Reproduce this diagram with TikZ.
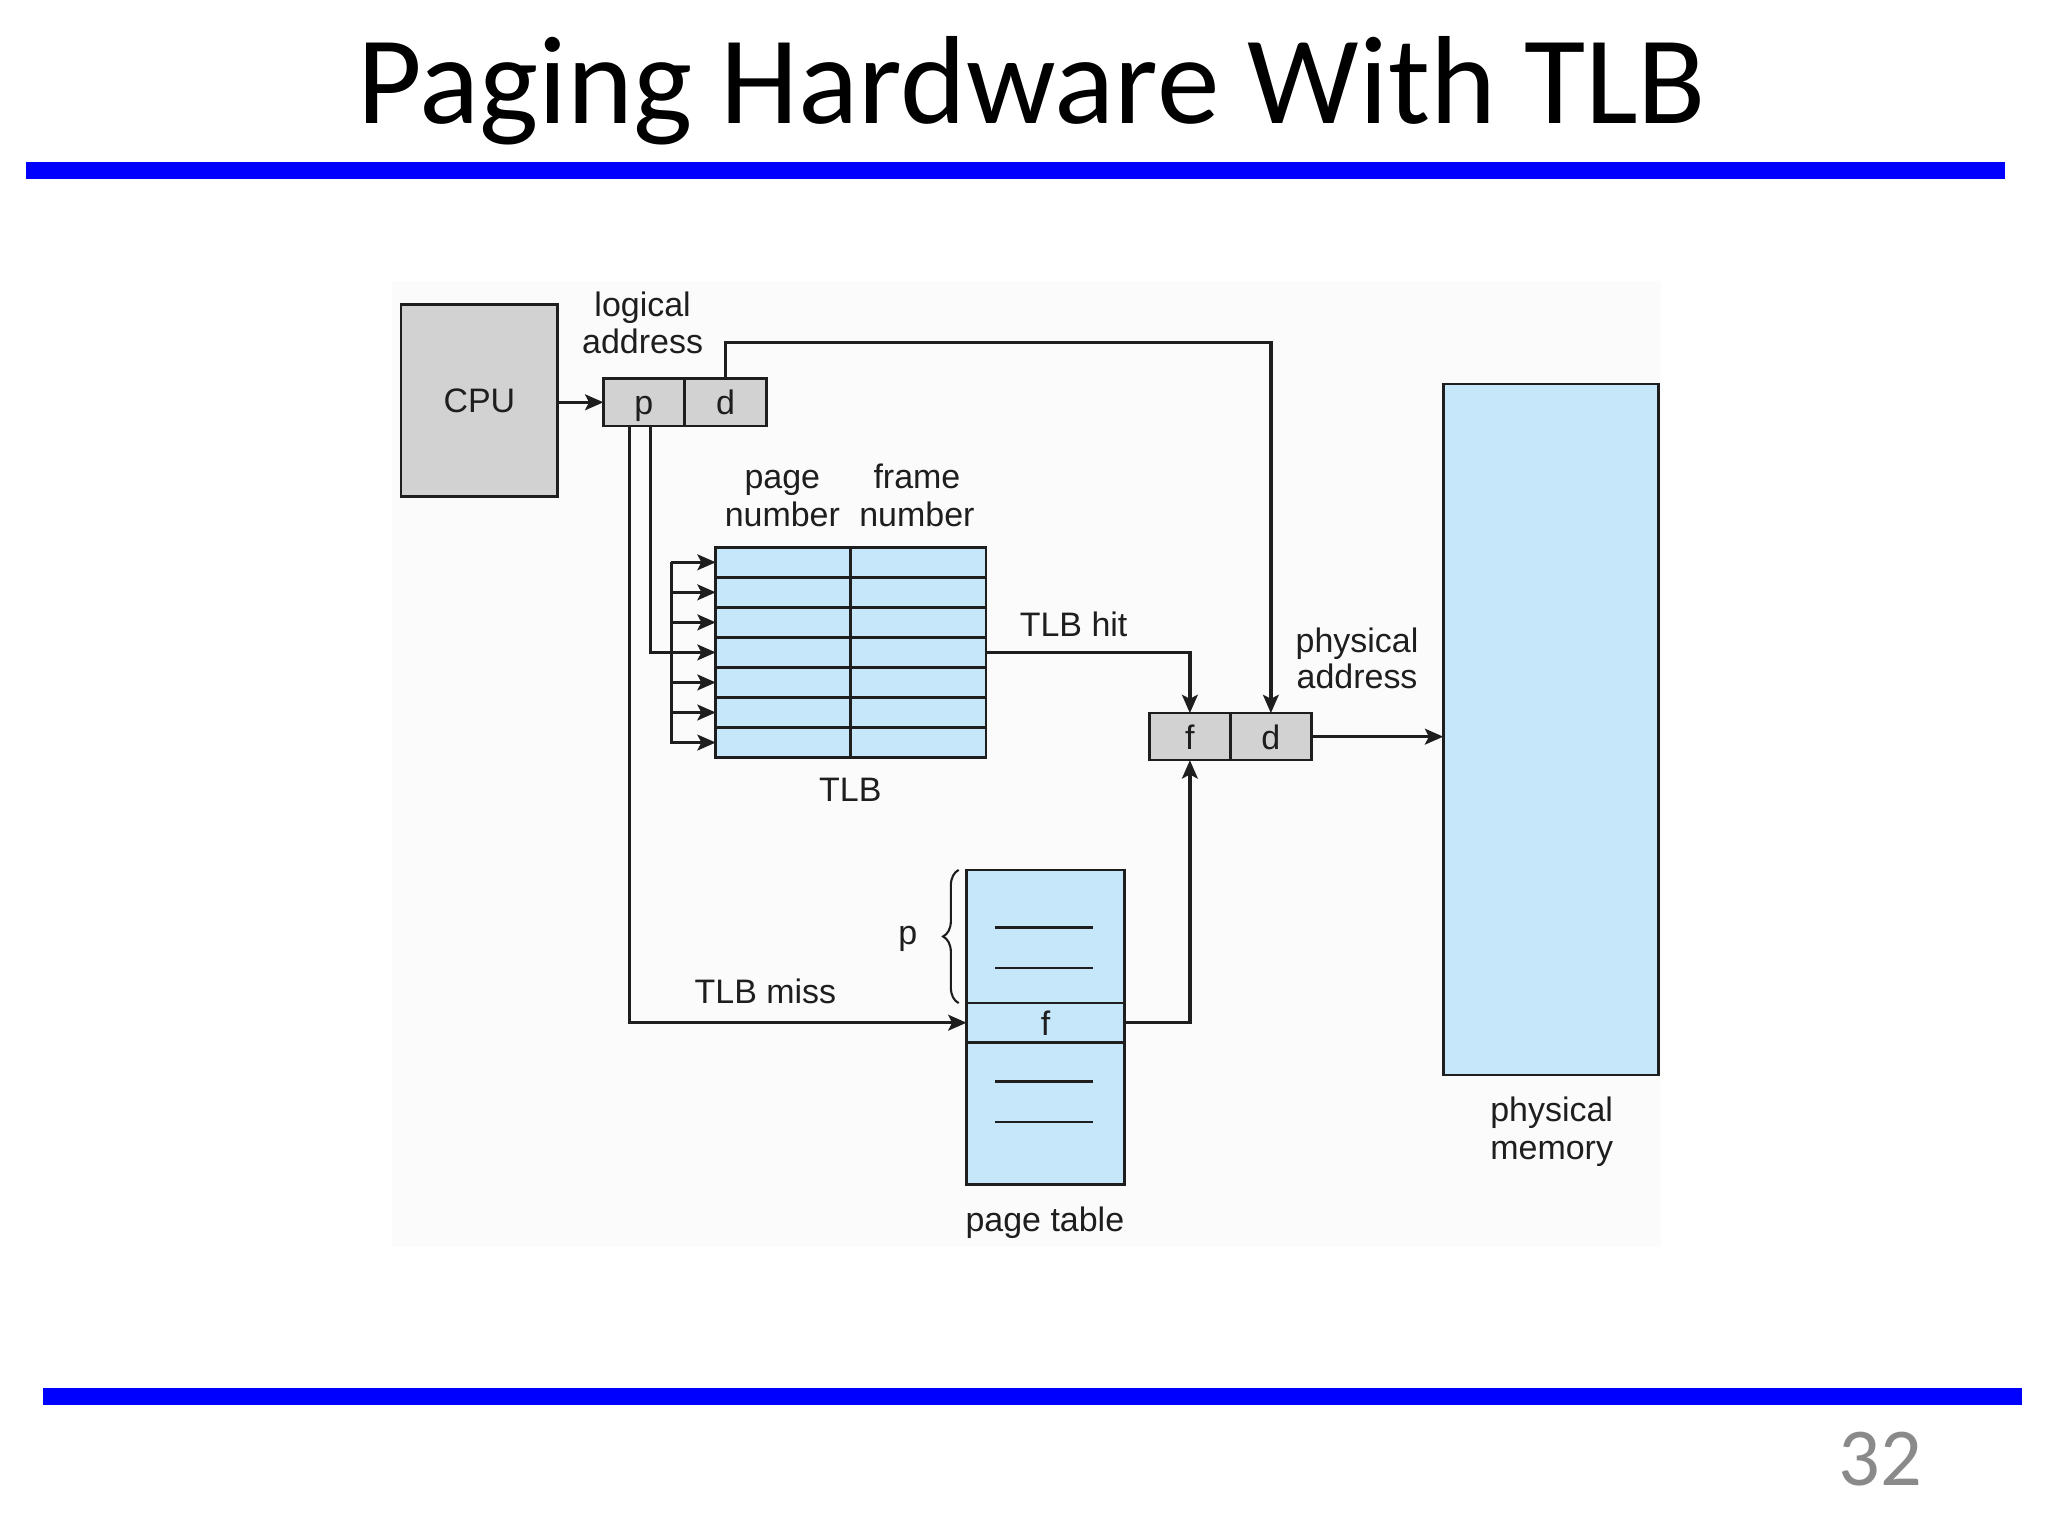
\documentclass[tikz,border=0pt]{standalone}
\usepackage{fontspec}
\setmainfont{Liberation Sans}
\newfontfamily\titlefont{Carlito}
\usetikzlibrary{arrows.meta,decorations.pathreplacing,calc}
\definecolor{memblue}{HTML}{C6E7F9}
\definecolor{boxgray}{HTML}{D2D2D2}
\definecolor{ink}{HTML}{1E1E1E}
\definecolor{slideblue}{HTML}{0000FF}
\definecolor{numgray}{HTML}{8A8A8A}
\definecolor{figbg}{HTML}{FBFBFB}
\begin{document}
\begin{tikzpicture}[x=1pt,y=-1pt,
  cell/.style={draw=ink, line width=2pt, inner sep=0pt, outer sep=0pt, anchor=north west, font=\fontsize{26}{29}\selectfont, text=ink, text height=19pt, text depth=0pt},
  graybox/.style={cell, fill=boxgray},
  bluebox/.style={cell, fill=memblue},
  conn/.style={draw=ink, line width=2.6pt},
  arr/.style={conn, -{Stealth[length=14pt,width=12pt,inset=3pt]}},
  lbl/.style={anchor=base, font=\fontsize{26}{29}\selectfont, text=ink, inner sep=0pt},
  thinline/.style={draw=ink, line width=2pt},
]
\useasboundingbox (0,0) rectangle (1568,1176);
\fill[white] (0,0) rectangle (1568,1176);
\fill[figbg] (300,215) rectangle (1272,955);

% slide frame
\node[anchor=base, font=\titlefont\fontsize{96}{100}\selectfont, inner sep=0pt] (title) at (790,94.4) {Paging Hardware With TLB};
\fill[slideblue] (20,124) rectangle (1535,137);
\fill[slideblue] (33,1063) rectangle (1548,1076);
\node[anchor=base east, font=\titlefont\fontsize{63}{66}\selectfont, text=numgray, inner sep=0pt] (pgnum) at (1472,1137) {32};

% CPU and logical address
\node[graybox, minimum width=120pt, minimum height=147pt] (cpu) at (307,233) {CPU};
\node[graybox, minimum width=62pt, minimum height=36pt] (p) at (462,290) {p};
\node[graybox, minimum width=63pt, minimum height=36pt] (d) at (524,290) {d};

% TLB
\foreach \i in {1,...,7} {
  \node[bluebox, minimum width=103pt, minimum height=23pt] (tp\i) at (548,{419+(\i-1)*23}) {};
  \node[bluebox, minimum width=104pt, minimum height=23pt] (tf\i) at (651,{419+(\i-1)*23}) {};
}

% page table
\node[bluebox, minimum width=121pt, minimum height=102pt] (pttop) at (740,666) {};
\node[bluebox, minimum width=121pt, minimum height=30pt] (ptf) at (740,768) {f};
\node[bluebox, minimum width=121pt, minimum height=109pt] (ptbot) at (740,798) {};
\foreach \y in {710,741,828,859} \draw[thinline] (762,\y) -- (837,\y);
\draw[draw=ink, line width=1.6pt, decorate, decoration={brace, amplitude=12pt}] (734,768) -- (734,666);

% physical address and memory
\node[graybox, minimum width=62pt, minimum height=36pt] (pf) at (880,546) {f};
\node[graybox, minimum width=62pt, minimum height=36pt] (pd) at (942,546) {d};
\node[bluebox, minimum width=165pt, minimum height=529pt] (mem) at (1105,294) {};

% connectors
\draw[arr] (cpu.east |- p.west) -- (p.west);
\coordinate (pa) at ($(p.south)+(-11,0)$);
\coordinate (pb) at ($(p.south)+(5,0)$);
\coordinate (bustop) at (514,430.5);
\coordinate (busbot) at (514,569.5);
\draw[conn] (bustop) -- (busbot);
\foreach \i in {1,...,7} \draw[arr] (tp\i.west -| bustop) -- (tp\i.west);
\draw[conn] (pb) |- (tp4.west -| bustop);
\draw[arr] (pa) |- (ptf.west);
\coordinate (dtop) at ($(d.north)+(0,-28)$);
\draw[arr] (d.north) -- (dtop) -| (pd.north);
\draw[arr] (tf4.east) -| (pf.north);
\draw[arr] (ptf.east) -| (pf.south);
\draw[arr] (pd.east) -- (pd.east -| mem.west);

% labels
\node[lbl] (la1) at (492,242) {logical};
\node[lbl] (la2) at (492,270.5) {address};
\node[lbl] (pn1) at (599,374) {page};
\node[lbl] (pn2) at (599,403) {number};
\node[lbl] (fn1) at (702,374) {frame};
\node[lbl] (fn2) at (702,403) {number};
\node[lbl] (hit) at (822,487.5) {TLB hit};
\node[lbl] (tlb) at (651,614) {TLB};
\node[lbl] (pa1) at (1039,499.5) {physical};
\node[lbl] (pa2) at (1039,527.5) {address};
\node[lbl] (miss) at (586,768.3) {TLB miss};
\node[lbl] (plbl) at (695,723) {p};
\node[lbl] (ptl) at (800,943) {page table};
\node[lbl] (pm1) at (1188,859) {physical};
\node[lbl] (pm2) at (1188,888) {memory};
\end{tikzpicture}
\end{document}
